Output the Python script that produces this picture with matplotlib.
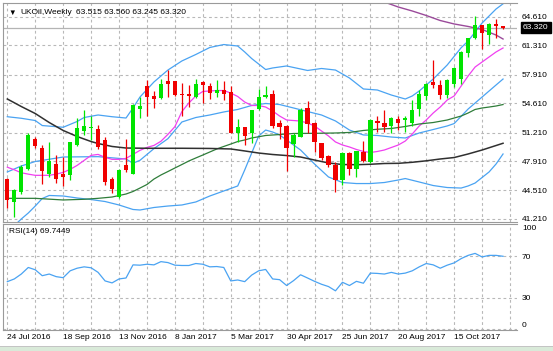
import matplotlib

matplotlib.use("Agg")
import matplotlib.pyplot as plt
import matplotlib.transforms as mtransforms
from matplotlib.patches import Rectangle

# weekly UKOil bars, bar 0 = 24 Jul 2016
opens = [45.84, 43.15, 44.32, 47.04, 50.46, 49.45, 46.46, 47.62, 46.46, 46.26,
         49.76, 51.43, 51.71, 51.59, 50.34, 45.88, 43.74, 47.43, 46.46, 53.92,
         56.64, 55.48, 55.21, 57.15, 57.15, 55.71, 55.71, 55.32, 57.07, 56.57,
         55.79, 56.10, 55.87, 51.12, 51.82, 51.12, 53.92, 55.32, 55.71, 52.29,
         51.98, 49.88, 50.74, 54.04, 52.29, 49.96, 48.48, 47.43, 45.68, 48.87,
         47.04, 48.98, 47.82, 52.60, 52.37, 51.98, 52.80, 52.68, 52.29, 53.92,
         55.48, 57.03, 56.76, 55.59, 56.85, 57.40, 60.40, 62.10, 63.65, 62.50,
         63.75, 63.515]
highs = [45.99, 44.71, 47.43, 51.20, 50.74, 49.76, 50.15, 48.60, 48.33, 50.15,
         52.87, 53.84, 53.18, 52.10, 50.74, 46.07, 47.04, 50.42, 54.55, 55.32,
         57.34, 55.98, 57.42, 58.39, 57.20, 56.96, 56.76, 57.42, 57.23, 56.96,
         57.34, 57.15, 56.57, 52.76, 51.90, 53.84, 56.26, 56.64, 56.10, 52.68,
         52.10, 51.20, 54.04, 54.82, 52.48, 50.03, 48.60, 47.82, 48.98, 48.98,
         49.10, 50.27, 52.76, 53.07, 53.77, 52.99, 53.07, 53.14, 55.01, 56.10,
         56.96, 59.60, 57.34, 57.42, 58.80, 60.60, 62.20, 64.70, 63.70, 63.85,
         64.30, 63.560]
lows = [42.49, 41.40, 44.13, 46.85, 49.37, 45.29, 46.07, 45.37, 44.98, 45.68,
        49.65, 50.93, 50.34, 49.26, 45.10, 44.20, 43.66, 46.65, 46.38, 52.87,
        53.14, 54.04, 55.09, 55.28, 55.40, 53.14, 54.16, 55.21, 54.62, 55.09,
        55.32, 55.01, 51.12, 50.15, 49.76, 50.03, 53.84, 55.21, 51.71, 50.42,
        46.77, 48.40, 50.66, 51.12, 48.98, 48.01, 47.24, 44.32, 45.17, 46.26,
        46.07, 47.82, 47.70, 51.32, 51.32, 51.12, 51.51, 51.32, 51.98, 53.07,
        55.01, 56.37, 55.09, 55.21, 56.50, 56.85, 59.90, 62.00, 60.90, 61.45,
        62.20, 63.245]
closes = [43.35, 44.51, 47.24, 50.93, 49.65, 46.77, 47.94, 45.88, 46.07, 50.07,
          51.71, 52.02, 51.90, 49.57, 45.49, 44.71, 46.93, 46.85, 54.43, 54.31,
          55.32, 55.09, 56.88, 56.84, 55.59, 55.52, 55.48, 56.88, 56.68, 55.79,
          56.10, 55.71, 51.20, 51.82, 50.81, 53.77, 55.32, 55.59, 51.98, 51.82,
          49.37, 50.93, 53.77, 52.21, 50.15, 48.21, 47.43, 45.68, 48.87, 47.04,
          49.06, 47.94, 52.68, 52.37, 51.90, 52.87, 52.37, 52.87, 53.84, 55.71,
          56.88, 56.76, 55.59, 57.34, 58.65, 60.55, 62.10, 63.60, 62.70, 63.80,
          63.58, 63.320]

# indicator lines (bar index, price)
bb_upper_idx = [0, 2, 4, 5, 8, 10, 11, 13, 15, 17, 18, 19, 21, 23, 25, 27, 29, 31,
                33, 34, 35, 37, 38, 40, 43, 45, 47, 49, 51, 53, 55, 57, 58, 59,
                61, 63, 65, 66, 68, 69, 70, 71]
bb_upper = [53.04, 52.86, 52.60, 52.02, 51.82, 52.49, 52.95, 53.24, 53.04, 52.89,
            54.05, 55.32, 57.06, 58.44, 59.49, 60.24, 61.05, 61.39, 61.22, 60.53,
            59.77, 58.50, 58.68, 58.91, 58.39, 58.62, 58.44, 57.52, 56.25, 56.13,
            55.55, 55.09, 55.44, 56.02, 57.40, 59.02, 61.02, 61.80, 63.88, 64.69,
            65.50, 66.10]
bb_mid_idx = [0, 2, 4, 8, 13, 17, 18, 19, 21, 23, 25, 27, 29, 31, 33, 35, 37, 39,
              41, 43, 45, 47, 49, 51, 53, 55, 57, 59, 61, 63, 64, 66, 68, 70, 71]
bb_mid = [46.65, 47.34, 47.86, 48.38, 48.42, 48.15, 47.66, 48.00, 49.35, 50.50,
          52.43, 52.95, 53.24, 53.59, 53.88, 54.34, 54.57, 54.45, 54.05, 53.64,
          53.24, 52.55, 51.50, 50.93, 50.87, 50.69, 50.58, 51.16, 51.56, 51.97,
          52.25, 53.93, 55.32, 56.71, 57.40]
bb_lower_idx = [0, 2, 3, 4, 5, 6, 8, 10, 12, 14, 16, 18, 19, 21, 23, 25, 27, 29,
                31, 33, 34, 35, 36, 37, 38, 39, 40, 42, 44, 46, 48, 50, 52, 54,
                56, 57, 59, 61, 63, 65, 66, 67, 68, 69, 70, 71]
bb_lower = [39.68, 41.21, 41.90, 42.71, 43.58, 43.93, 43.87, 43.64, 43.46, 43.23,
            42.83, 42.31, 42.25, 42.54, 42.71, 42.83, 43.18, 43.87, 44.45, 45.03,
            46.88, 48.84, 50.81, 51.50, 51.27, 50.93, 50.35, 49.19, 47.57, 46.07,
            45.43, 45.31, 45.31, 45.43, 45.72, 45.89, 45.49, 45.08, 44.85, 44.79,
            45.03, 45.37, 46.01, 46.65, 47.57, 48.73]
ma_fast_idx = list(range(0, 72))
ma_fast = [47.20, 46.90, 46.56, 46.40, 46.26, 46.26, 46.26, 46.40, 46.60, 46.95,
           47.41, 47.99, 48.57, 48.68, 48.34, 48.11, 48.11, 48.22, 48.68, 49.15,
           49.49, 49.72, 50.20, 51.00, 51.89, 53.63, 54.63, 55.44, 55.96, 56.02,
           56.07, 56.07, 55.78, 55.38, 54.74, 54.34, 54.34, 54.16, 53.70, 53.12,
           52.66, 52.60, 52.54, 52.31, 51.97, 51.39, 50.81, 50.12, 49.77, 49.54,
           49.25, 49.02, 48.90, 49.02, 49.19, 49.48, 49.77, 50.23, 51.04, 51.97,
           52.66, 53.47, 54.16, 54.97, 55.44, 56.59, 57.75, 58.79, 59.37, 59.95,
           60.53, 60.99]
ma_mid_idx = [0, 4, 8, 11, 13, 15, 17, 18, 19, 20, 21, 22, 23, 24, 25, 26, 27, 28,
              29, 30, 31, 32, 33, 34, 35, 37, 39, 41, 44, 47, 49, 51, 53, 55, 57,
              59, 61, 63, 64, 65, 66, 67, 68, 69, 70, 71]
ma_mid = [43.60, 43.60, 43.41, 43.49, 43.60, 43.75, 44.10, 44.39, 44.79, 45.20,
          45.83, 46.30, 46.70, 47.11, 47.51, 47.92, 48.27, 48.61, 48.96, 49.31,
          49.60, 49.88, 50.17, 50.35, 50.58, 50.87, 50.98, 51.10, 51.12, 51.16,
          51.22, 51.45, 51.59, 51.68, 51.91, 52.20, 52.37, 52.66, 52.89, 53.12,
          53.47, 53.88, 54.05, 54.16, 54.28, 54.45]
ma_slow_idx = [0, 2, 4, 6, 8, 10, 12, 13, 15, 17, 20, 25, 29, 32, 34, 36, 38, 40,
               42, 44, 46, 48, 50, 52, 54, 56, 58, 60, 62, 64, 66, 68, 70, 71]
ma_slow = [55.09, 54.22, 53.41, 52.37, 51.45, 50.75, 50.17, 49.94, 49.60, 49.42,
           49.39, 49.39, 49.37, 49.31, 49.08, 48.84, 48.67, 48.55, 48.38, 48.03,
           47.69, 47.51, 47.49, 47.54, 47.63, 47.65, 47.77, 47.94, 48.15, 48.32,
           48.73, 49.19, 49.71, 49.97]
ma_long_idx = [54, 56, 58, 60, 62, 64, 66, 68, 70, 71]
ma_long = [66.31, 65.73, 65.27, 64.75, 64.17, 63.77, 63.48, 63.13, 62.49, 62.03]

rsi_values = [45.4, 48.0, 52.7, 59.0, 56.8, 51.1, 52.7, 50.2, 49.2, 55.8,
              58.3, 59.6, 58.7, 54.3, 46.1, 44.2, 48.0, 48.9, 61.5, 61.2,
              62.1, 61.5, 64.6, 63.7, 61.2, 60.9, 60.9, 62.8, 62.1, 59.6,
              59.9, 59.0, 46.1, 47.0, 45.4, 51.7, 55.8, 57.1, 48.0, 47.3,
              41.7, 46.4, 52.0, 48.9, 45.7, 42.9, 40.7, 36.6, 44.8, 41.7,
              45.7, 43.9, 53.6, 53.3, 52.7, 54.3, 52.7, 53.6, 55.8, 59.6,
              62.8, 61.5, 58.3, 61.2, 63.4, 67.5, 70.6, 72.5, 69.1, 70.6,
              70.6, 69.7449]

date_tick_bars = [0, 8, 16, 24, 32, 40, 48, 56, 64]
date_labels = ["24 Jul 2016", "18 Sep 2016", "13 Nov 2016", "8 Jan 2017", "5 Mar 2017",
               "30 Apr 2017", "25 Jun 2017", "20 Aug 2017", "15 Oct 2017"]
price_ticks = [64.61, 61.31, 57.91, 54.61, 51.21, 47.91, 44.51, 41.21]
rsi_ticks = [100, 70, 30, 0]
last_price = 63.320

W, H = 553, 351
BULL = "#00e400"
BEAR = "#f00000"
GRID = "#b8b8b8"
FRAME = "#9a9a9a"
BAND = "#4aa3f2"

plt.rcParams["font.family"] = ["Liberation Sans", "DejaVu Sans"]
plt.rcParams["font.size"] = 6


def px_box(left, top, right, bottom):
    return [left / W, 1 - bottom / H, (right - left) / W, (bottom - top) / H]


fig = plt.figure(figsize=(W / 100, H / 100), dpi=100)
fig.patch.set_facecolor("white")
ax = fig.add_axes(px_box(3, 3, 517, 222))
rsi_ax = fig.add_axes(px_box(3, 224, 517, 329.5), sharex=ax)

x_min, x_max = -0.62, 73.0
v_grid = list(range(0, 73, 4))

for a in (ax, rsi_ax):
    a.set_facecolor("white")
    a.set_xlim(x_min, x_max)
    for x in v_grid:
        a.axvline(x, color=GRID, lw=0.8, ls=(0, (2.5, 2.5)), zorder=0)
    a.spines["right"].set_visible(False)
    for side in ("left", "top", "bottom"):
        a.spines[side].set_color(FRAME)
        a.spines[side].set_linewidth(0.8)
    a.yaxis.tick_right()
    a.tick_params(axis="y", length=0, pad=3.6, labelsize=6, colors="black")

# price pane
ax.set_ylim(40.862, 66.195)
for p in price_ticks:
    ax.axhline(p, color=GRID, lw=0.8, ls=(0, (2.5, 2.5)), zorder=0)
ax.axhline(last_price, color="#b4b4b4", lw=0.9, zorder=1)
ax.set_yticks(price_ticks)
ax.set_yticklabels([f"{p:.3f}" for p in price_ticks])
ax.tick_params(axis="x", length=0, labelbottom=False)

ax.plot(bb_upper_idx, bb_upper, color=BAND, lw=0.9, zorder=2)
ax.plot(bb_mid_idx, bb_mid, color=BAND, lw=0.9, zorder=2)
ax.plot(bb_lower_idx, bb_lower, color=BAND, lw=0.9, zorder=2)
ax.plot(ma_fast_idx, ma_fast, color="#f040f0", lw=0.9, zorder=2)
ax.plot(ma_mid_idx, ma_mid, color="#2f7d3a", lw=0.9, zorder=2)
ax.plot(ma_slow_idx, ma_slow, color="#303030", lw=1.1, zorder=2)
ax.plot(ma_long_idx, ma_long, color="#9a4a9a", lw=1.0, zorder=2)

body_w = 0.62
for i, (o, h, l, c) in enumerate(zip(opens, highs, lows, closes)):
    col = BULL if c >= o else BEAR
    ax.vlines(i, l, h, color=col, lw=0.9, zorder=3)
    height = max(abs(c - o), 0.07)
    ax.bar(i, height, bottom=min(o, c), width=body_w, color=col, lw=0, zorder=4)

trans = mtransforms.blended_transform_factory(ax.transAxes, ax.transData)
ax.text(1.0 + 6 / 514, last_price, f"{last_price:.3f}", transform=trans, color="white",
        fontsize=6, va="center", ha="left", zorder=6,
        bbox=dict(boxstyle="square,pad=0.25", facecolor="black", edgecolor="black"))

header_y = 1 - 13 / H
fig.text(8 / W, header_y, "\u25bc", fontsize=5.5, va="center", ha="left")
fig.text(20 / W, header_y, "UKOil,Weekly", fontsize=6, va="center", ha="left")
ohlc_text = " ".join(f"{v:.3f}" for v in (opens[-1], highs[-1], lows[-1], closes[-1]))
fig.text(76 / W, header_y, ohlc_text, fontsize=6, va="center", ha="left")

# RSI pane
rsi_ax.set_ylim(-0.5, 100.7)
for level in (70, 30, 0):
    rsi_ax.axhline(level, color=GRID, lw=0.8, ls=(0, (2.5, 2.5)), zorder=0)
rsi_ax.plot(range(len(rsi_values)), rsi_values, color=BAND, lw=0.9, zorder=3)
rsi_ax.set_yticks(rsi_ticks)
rsi_ax.set_yticklabels([str(t) for t in rsi_ticks])
labels = rsi_ax.get_yticklabels()
labels[0].set_va("top")
labels[-1].set_va("bottom")
rsi_ax.text(6 / 514, 1 - 8 / 105.5, f"RSI(14) {rsi_values[-1]:.4f}", transform=rsi_ax.transAxes,
            fontsize=6, va="center", ha="left")

rsi_ax.set_xticks(date_tick_bars)
rsi_ax.set_xticklabels(date_labels, ha="left")
rsi_ax.tick_params(axis="x", length=0, pad=3.5, labelsize=6)

# window bottom strip
fig.add_artist(Rectangle((0, 0), 1, 4 / H, transform=fig.transFigure, facecolor="#d9ead9",
                         edgecolor="none"))
fig.add_artist(Rectangle((0, 4 / H), 1, 1 / H, transform=fig.transFigure, facecolor="#c4c4c4",
                         edgecolor="none"))

fig.savefig("out.png", dpi=100)
